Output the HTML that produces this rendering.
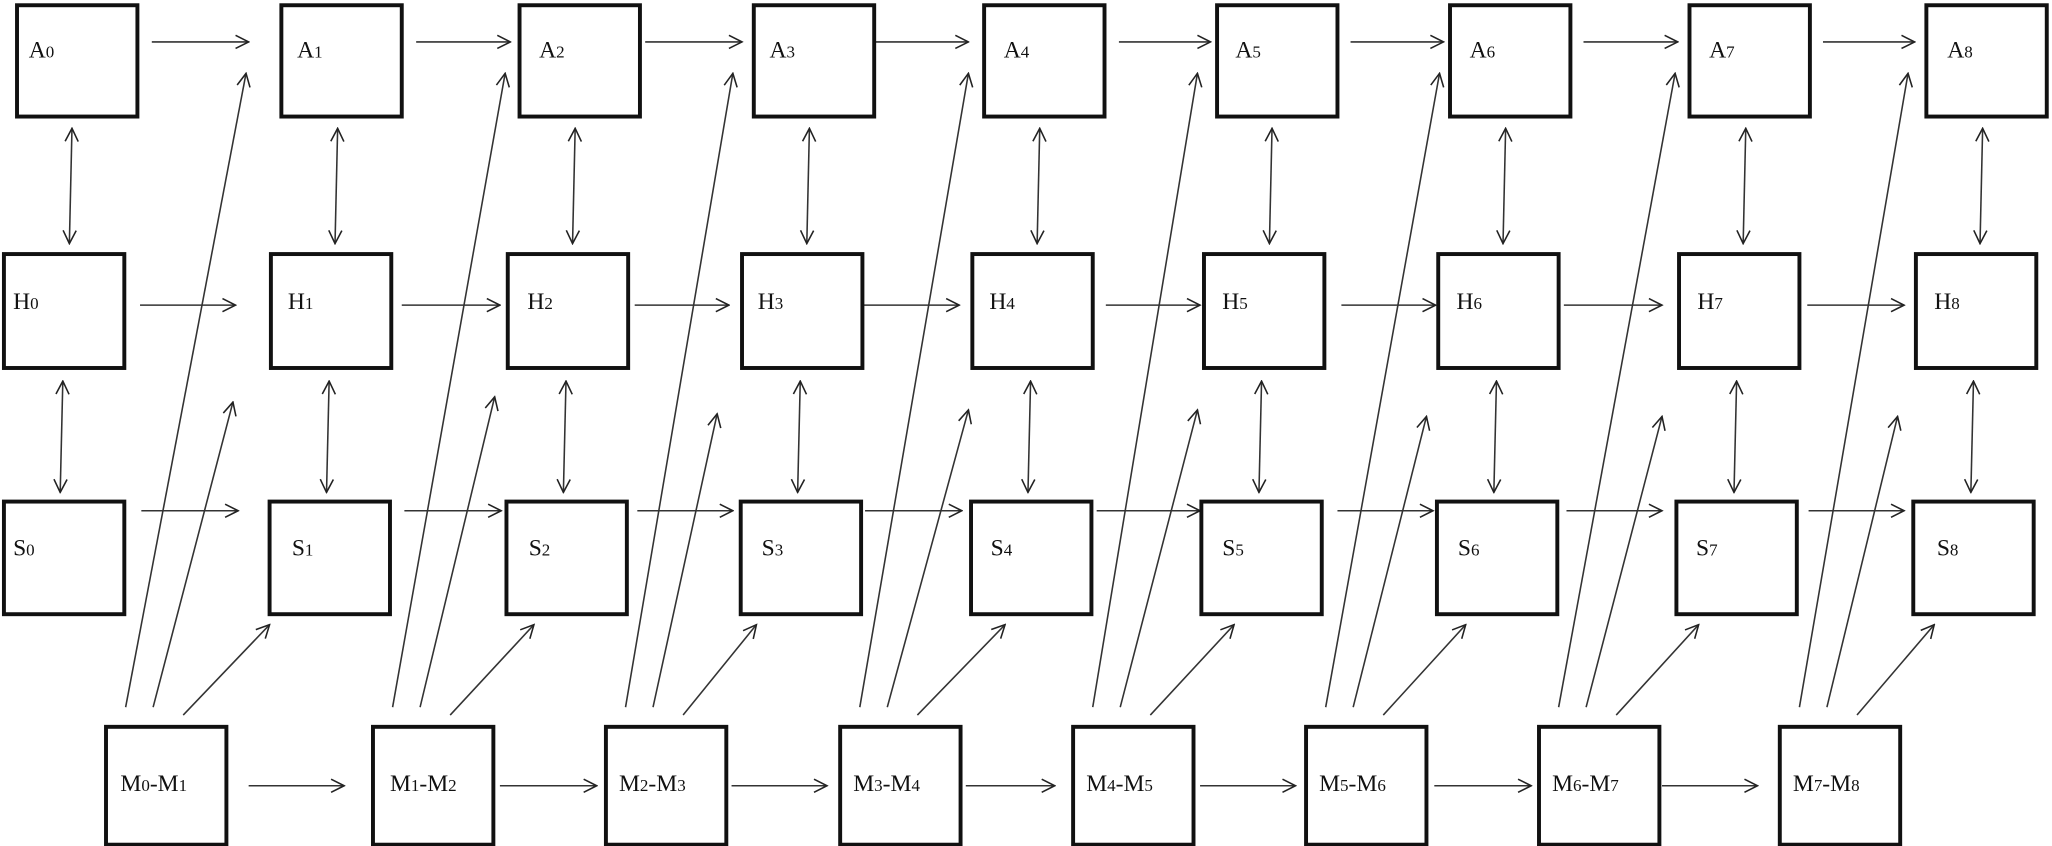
<!DOCTYPE html>
<html><head><meta charset="utf-8"><style>
html,body{margin:0;padding:0;background:#fff;width:2052px;height:846px;overflow:hidden}
svg{display:block}
text{font-family:"Liberation Serif",serif;font-size:18px;fill:#111}
tspan.s{font-size:13px}
</style></head><body>
<svg id="g" width="2052" height="846" viewBox="0 0 1568 646" preserveAspectRatio="none" xmlns="http://www.w3.org/2000/svg">
<defs>
<marker id="ah" viewBox="0 0 12 12" refX="11" refY="6" markerWidth="12" markerHeight="12" markerUnits="userSpaceOnUse" orient="auto-start-reverse">
<path d="M1,1 L11,6 L1,11" fill="none" stroke="#222" stroke-width="1.2"/>
</marker>
</defs>
<g id="lines" stroke="#333" stroke-width="1.2" fill="none"></g>
<g id="boxes" fill="none" stroke="#111" stroke-width="3"></g>
<g>
<text x="22" y="44">A<tspan class="s">0</tspan></text>
<text x="227" y="44">A<tspan class="s">1</tspan></text>
<text x="412" y="44">A<tspan class="s">2</tspan></text>
<text x="588" y="44">A<tspan class="s">3</tspan></text>
<text x="767" y="44">A<tspan class="s">4</tspan></text>
<text x="944" y="44">A<tspan class="s">5</tspan></text>
<text x="1123" y="44">A<tspan class="s">6</tspan></text>
<text x="1306" y="44">A<tspan class="s">7</tspan></text>
<text x="1488" y="44">A<tspan class="s">8</tspan></text>
<text x="10" y="236">H<tspan class="s">0</tspan></text>
<text x="220" y="236">H<tspan class="s">1</tspan></text>
<text x="403" y="236">H<tspan class="s">2</tspan></text>
<text x="579" y="236">H<tspan class="s">3</tspan></text>
<text x="756" y="236">H<tspan class="s">4</tspan></text>
<text x="934" y="236">H<tspan class="s">5</tspan></text>
<text x="1113" y="236">H<tspan class="s">6</tspan></text>
<text x="1297" y="236">H<tspan class="s">7</tspan></text>
<text x="1478" y="236">H<tspan class="s">8</tspan></text>
<text x="10" y="424">S<tspan class="s">0</tspan></text>
<text x="223" y="424">S<tspan class="s">1</tspan></text>
<text x="404" y="424">S<tspan class="s">2</tspan></text>
<text x="582" y="424">S<tspan class="s">3</tspan></text>
<text x="757" y="424">S<tspan class="s">4</tspan></text>
<text x="934" y="424">S<tspan class="s">5</tspan></text>
<text x="1114" y="424">S<tspan class="s">6</tspan></text>
<text x="1296" y="424">S<tspan class="s">7</tspan></text>
<text x="1480" y="424">S<tspan class="s">8</tspan></text>
<text x="92" y="604">M<tspan class="s">0</tspan>-M<tspan class="s">1</tspan></text>
<text x="298" y="604">M<tspan class="s">1</tspan>-M<tspan class="s">2</tspan></text>
<text x="473" y="604">M<tspan class="s">2</tspan>-M<tspan class="s">3</tspan></text>
<text x="652" y="604">M<tspan class="s">3</tspan>-M<tspan class="s">4</tspan></text>
<text x="830" y="604">M<tspan class="s">4</tspan>-M<tspan class="s">5</tspan></text>
<text x="1008" y="604">M<tspan class="s">5</tspan>-M<tspan class="s">6</tspan></text>
<text x="1186" y="604">M<tspan class="s">6</tspan>-M<tspan class="s">7</tspan></text>
<text x="1370" y="604">M<tspan class="s">7</tspan>-M<tspan class="s">8</tspan></text>
</g>
</svg>
<script>
var NS="http://www.w3.org/2000/svg";
var A=[13,215,397,576,752,930,1108,1291,1472],H=[3,207,388,567,743,920,1099,1283,1464],
S=[3,206,387,566,742,918,1098,1281,1462],M=[81,285,463,642,820,998,1176,1360];
var W=92,bx=document.getElementById('boxes'),ln=document.getElementById('lines');
function rect(x,y,h){var r=document.createElementNS(NS,'rect');r.setAttribute('x',x);r.setAttribute('y',y);r.setAttribute('width',W);r.setAttribute('height',h);bx.appendChild(r);}
function line(x1,y1,x2,y2,both){var l=document.createElementNS(NS,'line');l.setAttribute('x1',x1);l.setAttribute('y1',y1);l.setAttribute('x2',x2);l.setAttribute('y2',y2);l.setAttribute('marker-end','url(#ah)');if(both)l.setAttribute('marker-start','url(#ah)');ln.appendChild(l);}
A.forEach(function(x){rect(x,4,85)});H.forEach(function(x){rect(x,194,87)});
S.forEach(function(x){rect(x,383,86)});M.forEach(function(x){rect(x,555,90)});
var HA=[[116,190],[318,390],[493,567],[668,740],[855,925],[1032,1103],[1210,1282],[1393,1463]];
var HH=[[107,180],[307,382],[485,557],[660,733],[845,917],[1025,1097],[1195,1270],[1381,1455]];
var HS=[[108,182],[309,383],[487,560],[661,735],[838,917],[1022,1095],[1197,1270],[1382,1455]];
var HM=[[190,263],[382,456],[559,632],[738,806],[917,990],[1096,1170],[1270,1343]];
var D1=[188,386,560,740,915,1100,1280,1458];
var D2=[178,378,548,740,915,1090,1270,1450];
var D2y=[307,303,316,313,313,318,318,318];
var D3=[206,408,578,768,943,1120,1298,1478];
for(var i=0;i<9;i++){
 line((A[i]+H[i])/2+W/2+1,98,(A[i]+H[i])/2+W/2-1,186,true);
 line((H[i]+S[i])/2+W/2-1,291,(H[i]+S[i])/2+W/2-3,376,true);
 if(i<8){
  line(HA[i][0],32,HA[i][1],32);
  line(HH[i][0],233,HH[i][1],233);
  line(HS[i][0],390,HS[i][1],390);
  var m=M[i];
  line(m+15,540,D1[i],56);
  line(m+36,540,D2[i],D2y[i]);
  line(m+59,546,D3[i],477);
  if(i<7) line(HM[i][0],600,HM[i][1],600);
 }
}
</script>
</body></html>
